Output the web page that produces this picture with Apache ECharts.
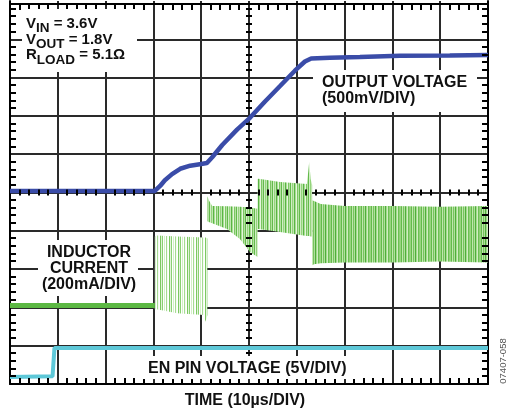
<!DOCTYPE html>
<html>
<head>
<meta charset="utf-8">
<script src="https://cdn.jsdelivr.net/npm/echarts@6/dist/echarts.min.js"></script>
<style>html,body{margin:0;padding:0;background:#fff}#c{width:506px;height:416px}#err{position:absolute;left:0;top:0;font:10px sans-serif;color:red}</style>
</head>
<body>
<div id="c"></div>
<div id="err"></div>
<script>
// ---- Data (time in µs, 10 µs/div) ----
// Output voltage (V)
const voutTime = [0, 30.3, 31.4, 32.4, 33.9, 35.6, 37.7, 39.7, 41.2, 42.3, 44.4, 47.5, 50.2, 53.3, 56.5, 59.6, 61.7, 63.0, 66.9, 73.2, 81.6, 92, 100];
const voutVal  = [0, 0, 0.065, 0.14, 0.22, 0.29, 0.33, 0.35, 0.365, 0.44, 0.6, 0.8, 0.955, 1.165, 1.37, 1.57, 1.69, 1.73, 1.74, 1.75, 1.765, 1.77, 1.775];
// EN pin voltage (V)
const enTime = [0, 8.9, 9.3, 100];
const enVal  = [0, 0.1, 3.8, 3.8];
// Inductor current (A): idle baseline
const ilBaseTime = [0, 30.3];
const ilBaseVal  = [0, 0];
// Inductor current switching envelopes (A), per phase
const il1Time = [30.3, 30.7, 35, 40.6, 40.9, 41.3];
const il1Up   = [0.36, 0.365, 0.36, 0.355, 0.355, 0.35];
const il1Lo   = [-0.02, -0.02, -0.04, -0.05, -0.085, -0.05];
const il2Time = [41.3, 41.6, 42.3, 45.4, 48.1, 50.2, 51.8];
const il2Up   = [0.57, 0.55, 0.52, 0.518, 0.515, 0.512, 0.505];
const il2Lo   = [0.44, 0.436, 0.43, 0.40, 0.347, 0.279, 0.253];
const il3Time = [51.8, 52.0, 56.5, 62.1, 62.4, 62.6, 62.9, 63.2];
const il3Up   = [0.66, 0.662, 0.645, 0.634, 0.70, 0.75, 0.66, 0.63];
const il3Lo   = [0.40, 0.40, 0.384, 0.363, 0.363, 0.363, 0.36, 0.36];
const il4Time = [63.2, 63.6, 65, 70, 80, 90, 100];
const il4Up   = [0.55, 0.545, 0.53, 0.52, 0.52, 0.515, 0.52];
const il4Lo   = [0.21, 0.215, 0.22, 0.225, 0.225, 0.23, 0.225];

// ---- Helpers ----
const zip = (a, b) => a.map((v, i) => [v, b[i]]);
function stripes(cols) {
  const c = document.createElement('canvas');
  c.width = cols.length; c.height = 2;
  const g = c.getContext('2d');
  cols.forEach((col, i) => { g.fillStyle = col; g.fillRect(i, 0, 1, 2); });
  return { image: c, repeat: 'repeat' };
}
const sparseFill = stripes(['#8ad072', '#ffffff', '#d3efc7', '#ffffff', '#a6db92', '#f4fbf1', '#ffffff', '#7cc862', '#e2f4da']);
const midFill = stripes(['#7cc663', '#b4e2a1', '#63ba4b', '#d2eec6', '#94d47c', '#c0e6b0', '#5ab444', '#a9de94', '#e4f5dc']);
const denseFill = stripes(['#98d580', '#63bb4b', '#c0e6af', '#78c45e', '#b0e09c', '#4fae3c', '#a2da8b', '#d0edc3', '#6dbf54', '#8fd176']);
const bands = [
  { t: il1Time, up: il1Up, lo: il1Lo, fill: sparseFill },
  { t: il2Time, up: il2Up, lo: il2Lo, fill: midFill },
  { t: il3Time, up: il3Up, lo: il3Lo, fill: midFill },
  { t: il4Time, up: il4Up, lo: il4Lo, fill: denseFill }
];

const FONT = '"Liberation Sans", Arial, sans-serif';
const mctx = document.createElement('canvas').getContext('2d');
function tw(str, font) { mctx.font = font; return mctx.measureText(str).width; }
function txt(x, y, text, size, align, extra) {
  return Object.assign({
    type: 'text', x: x, y: y, z: 110,
    style: { text: text, font: 'bold ' + size + 'px ' + FONT, fill: '#111',
             align: align || 'left', verticalAlign: 'middle',
             textAlign: align || 'left', textVerticalAlign: 'middle' }
  }, extra || {});
}
function subLine(x, y, main, sub, rest) {
  const mf = 'bold 15px ' + FONT, sf = 'bold 13.5px ' + FONT;
  const w1 = tw(main, mf), w2 = tw(sub, sf);
  return [txt(x, y, main, 15), txt(x + w1, y + 4.8, sub, 13.5), txt(x + w1 + w2, y, rest, 15)];
}
const white = (x, y, w, h) => ({ type: 'rect', z: 100, shape: { x: x, y: y, width: w, height: h }, style: { fill: '#fff' } });

const blackLine = { show: true, onZero: false, lineStyle: { color: '#000', width: 2 } };
const gridLine = { show: true, showMinLine: false, showMaxLine: false, lineStyle: { color: '#2a2a2a', width: 2 } };
function axis(o) {
  return Object.assign({
    type: 'value',
    axisLine: { show: false, onZero: false },
    axisTick: { show: false },
    axisLabel: { show: false },
    splitLine: { show: false }
  }, o);
}

const textEls = [
  white(22, 9, 115, 63),
  ...subLine(26, 23.5, 'V', 'IN', ' = 3.6V'),
  ...subLine(26, 39.5, 'V', 'OUT', ' = 1.8V'),
  ...subLine(26, 55, 'R', 'LOAD', ' = 5.1Ω'),
  white(313, 70, 164, 42),
  txt(322, 82.5, 'OUTPUT VOLTAGE', 16),
  txt(322, 99, '(500mV/DIV)', 16),
  white(38, 240, 100, 56),
  txt(89, 253, 'INDUCTOR', 16, 'center'),
  txt(89, 269, 'CURRENT', 16, 'center'),
  txt(89, 285, '(200mA/DIV)', 16, 'center'),
  white(140, 356, 216, 23),
  txt(148, 368.5, 'EN PIN VOLTAGE (5V/DIV)', 16),
  txt(245, 400.5, 'TIME (10µs/DIV)', 16, 'center'),
  { type: 'text', x: 503, y: 361, rotation: Math.PI / 2, z: 110,
    style: { text: '07407-058', font: '9.5px ' + FONT, fill: '#555', align: 'center', verticalAlign: 'middle', textAlign: 'center', textVerticalAlign: 'middle' } }
];

const chart = echarts.init(document.getElementById('c'), null, { renderer: 'canvas' });
try {
chart.setOption({
  animation: false,
  backgroundColor: '#ffffff',
  grid: { left: 10, top: 1, width: 478, height: 383, show: false },
  xAxis: [
    axis({ position: 'bottom', min: 0, max: 100, interval: 10, axisLine: blackLine, splitLine: gridLine }),
    axis({ position: 'top', offset: -3, min: 0, max: 100, interval: 10, axisLine: blackLine })
  ],
  yAxis: [
    axis({ position: 'left', min: 0, max: 10, interval: 1, axisLine: blackLine, splitLine: gridLine }),
    axis({ position: 'right', min: 0, max: 10, interval: 1, axisLine: blackLine }),
    { type: 'value', show: false, min: -2.52, max: 2.48 },   // Vout 500 mV/div
    { type: 'value', show: false, min: -0.41, max: 1.59 },   // IL 200 mA/div
    { type: 'value', show: false, min: -0.9, max: 49.1 }     // EN 5 V/div
  ],
  series: [
    {
      type: 'custom', xAxisIndex: 0, yAxisIndex: 3, z: 3,
      data: bands.map((b, i) => [i, 0]),
      renderItem: function (params, api) {
        const b = bands[api.value(0)];
        const pts = [];
        b.t.forEach((t, i) => pts.push(api.coord([t, b.up[i]])));
        for (let i = b.t.length - 1; i >= 0; i--) pts.push(api.coord([b.t[i], b.lo[i]]));
        return { type: 'polygon', shape: { points: pts }, style: { fill: b.fill } };
      }
    },
    {
      type: 'line', xAxisIndex: 0, yAxisIndex: 3, z: 4, data: zip(ilBaseTime, ilBaseVal),
      symbol: 'none', lineStyle: { color: '#5cb843', width: 5 }
    },
    {
      type: 'line', xAxisIndex: 0, yAxisIndex: 2, z: 5, data: zip(voutTime, voutVal),
      symbol: 'none', lineStyle: { color: '#3a4ca8', width: 4.5 }
    },
    {
      type: 'line', xAxisIndex: 0, yAxisIndex: 4, z: 5, data: zip(enTime, enVal),
      symbol: 'none', lineStyle: { color: '#5ec8d8', width: 4 }
    }
  ],
  graphic: { elements: textEls }
});

// Graticule minor ticks (5 per division), positioned through the axes' scales
const px = (t, d) => chart.convertToPixel({ xAxisIndex: 0, yAxisIndex: 0 }, [t, d]);
const tickEls = [];
const rc = (x, y, w, h) => tickEls.push({ type: 'rect', z: 50, silent: true,
  shape: { x: x, y: y, width: w, height: h }, style: { fill: '#000' } });
for (let k = 1; k < 50; k++) {
  if (k % 5 === 0) continue;
  const t = k * 2;
  const b = px(t, 0), c = px(t, 5), tp = px(t, 10);
  const x = Math.round(b[0]) - 1;
  rc(x, b[1] - 6, 2, 6);
  rc(x, tp[1] + 3, 2, 6);
  rc(x, c[1] - 3, 2, 6);
}
for (let k = 1; k < 50; k++) {
  if (k % 5 === 0) continue;
  const d = k / 5;
  const l = px(0, d), c = px(50, d), r = px(100, d);
  const y = Math.round(l[1]) - 1;
  rc(l[0], y, 6, 2);
  rc(r[0] - 6, y, 6, 2);
  rc(c[0] - 3, y, 6, 2);
}
chart.setOption({ graphic: { elements: textEls.concat(tickEls) } });
} catch (e) {
  document.getElementById('err').textContent = 'ERR: ' + e.message;
}
</script>
</body>
</html>
